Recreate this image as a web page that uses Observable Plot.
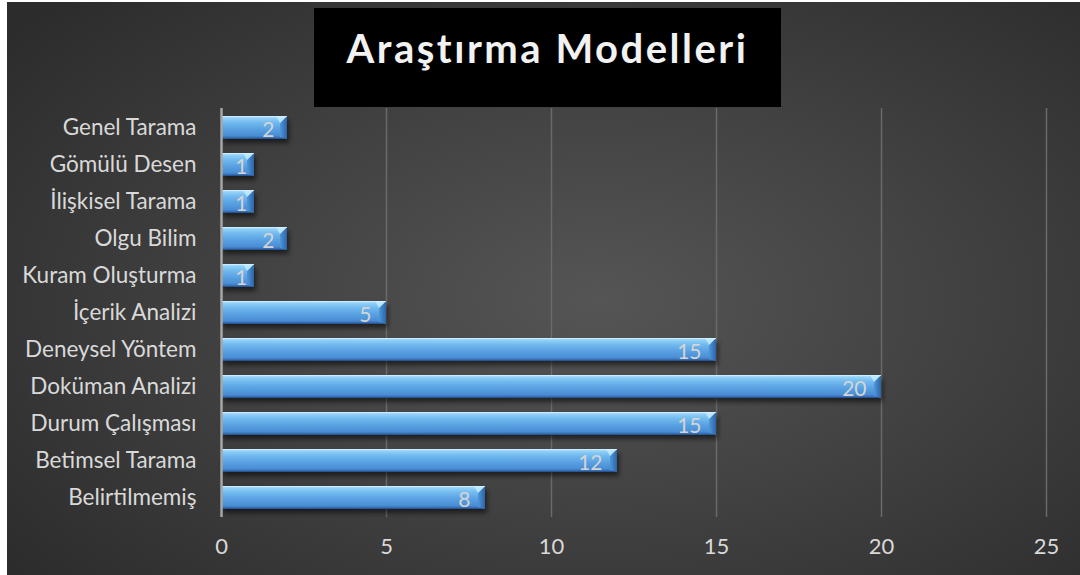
<!DOCTYPE html>
<html>
<head>
<meta charset="utf-8">
<script src="https://cdn.jsdelivr.net/npm/d3@7"></script>
<script src="https://cdn.jsdelivr.net/npm/@observablehq/plot@0.6"></script>
<style>
  html, body { margin: 0; padding: 0; background: #ffffff; }
  #frame {
    position: absolute; left: 7px; top: 2px; width: 1073px; height: 573px;
    background: radial-gradient(ellipse 70% 75% at 55% 52%, #555555 0%, #434343 45%, #2c2c2c 100%);
    overflow: hidden;
  }
  #title {
    position: absolute; left: 307px; top: 6px; width: 467px; height: 99px;
    background: #000000; color: #f2f2f2;
    font-family: Lato, "Open Sans", sans-serif; font-weight: 700; font-size: 40px;
    letter-spacing: 2.5px; text-align: center; line-height: 80px; box-sizing: border-box;
  }
  #chart { position: absolute; left: 0; top: 0; }
</style>
</head>
<body>
<div id="frame">
  <div id="chart"></div>
  <div id="title">Araştırma Modelleri</div>
</div>
<script>
const categories = ["Genel Tarama", "Gömülü Desen", "İlişkisel Tarama", "Olgu Bilim", "Kuram Oluşturma", "İçerik Analizi", "Deneysel Yöntem", "Doküman Analizi", "Durum Çalışması", "Betimsel Tarama", "Belirtilmemiş"];
const values = [2, 1, 1, 2, 1, 5, 15, 20, 15, 12, 8];
const xTicks = [0, 5, 10, 15, 20, 25];

const data = categories.map((c, i) => ({category: c, value: values[i]}));

const font = "Lato, 'Open Sans', sans-serif";
const plot = Plot.plot({
  width: 1073,
  height: 573,
  marginLeft: 214,
  marginRight: 34,
  marginTop: 106,
  marginBottom: 58,
  style: {background: "transparent", fontFamily: font, fontSize: "22px", color: "#d9d9d9", overflow: "visible"},
  x: {domain: [0, 25], ticks: xTicks},
  y: {domain: categories, paddingInner: 0.38, paddingOuter: 0.19, label: null},
  marks: [
    Plot.gridX(xTicks.filter(t => t > 0), {stroke: "#6a6a6a", strokeOpacity: 1, strokeWidth: 1.5}),
    Plot.barX(data, {x: "value", y: "category", fill: "url(#barGrad)"}),
    Plot.ruleX([0], {stroke: "#a6a6a6", strokeWidth: 2.5}),
    Plot.text(data, {x: "value", y: "category", text: d => String(d.value), textAnchor: "end", dy: 2, fill: "#d4d4d4", fontSize: 21}),
    Plot.axisX({ticks: xTicks, tickSize: 0, tickPadding: 21, label: null, fill: "#d9d9d9", fontSize: 22}),
    Plot.axisY({tickSize: 0, tickPadding: 25, label: null, fill: "#d9d9d9", fontSize: 22.5})
  ]
});

// gradient + shadow definitions
const svg = d3.select(plot);
const defs = svg.insert("defs", ":first-child");
const g = defs.append("linearGradient").attr("id", "barGrad").attr("x1", 0).attr("y1", 0).attr("x2", 0).attr("y2", 1);
[[0, "#b5e3fc"], [0.12, "#8ccdf6"], [0.3, "#70b8ee"], [0.55, "#5aa3e3"], [0.85, "#4a8dd4"], [0.93, "#3a72b8"], [1, "#1f4a86"]]
  .forEach(([o, c]) => g.append("stop").attr("offset", o).attr("stop-color", c));
const eg = defs.append("linearGradient").attr("id", "endGrad").attr("x1", 0).attr("y1", 0).attr("x2", 1).attr("y2", 0);
[[0, "#4f97da"], [1, "#2d64a8"]].forEach(([o, c]) => eg.append("stop").attr("offset", o).attr("stop-color", c));
const f = defs.append("filter").attr("id", "barShadow").attr("x", "-10%").attr("y", "-30%").attr("width", "120%").attr("height", "180%");
f.append("feDropShadow").attr("dx", 2).attr("dy", 4).attr("stdDeviation", 2.5).attr("flood-color", "#000").attr("flood-opacity", 0.55);

svg.selectAll("rect").filter(function() { return this.getAttribute("fill") === "url(#barGrad)" || (this.parentNode && this.parentNode.getAttribute("fill") === "url(#barGrad)"); })
  .each(function() {
    const r = d3.select(this);
    const x = +r.attr("x"), y = +r.attr("y"), w = +r.attr("width"), h = +r.attr("height");
    const parent = d3.select(this.parentNode);
    const grp = parent.append("g");
    const xe = x + w, b = Math.min(7, w / 3);
    grp.append("polygon").attr("points", `${xe - b},${y + b} ${xe},${y} ${xe},${y + h} ${xe - b},${y + h - 2}`).attr("fill", "url(#endGrad)");
    grp.append("polygon").attr("points", `${xe - b},${y + b} ${xe},${y} ${xe - b - 4},${y}`).attr("fill", "#c8ecff").attr("opacity", 0.8);
    grp.append("line").attr("x1", x).attr("x2", xe).attr("y1", y + 0.5).attr("y2", y + 0.5).attr("stroke", "#d6f1ff").attr("stroke-width", 1).attr("opacity", 0.7);
  });
svg.selectAll("g").filter(function() { return this.getAttribute("fill") === "url(#barGrad)"; }).attr("filter", "url(#barShadow)");

// value labels: inside end, horizontal offset like the original
svg.selectAll("text").filter(function() { return this.parentNode && this.parentNode.getAttribute("fill") === "#d4d4d4"; })
  .each(function(_, i) {
    const v = values[i];
    d3.select(this).attr("dx", v <= 1 ? -7 : (v <= 2 ? -13 : -15));
  });

document.getElementById("chart").appendChild(plot);
</script>
</body>
</html>
